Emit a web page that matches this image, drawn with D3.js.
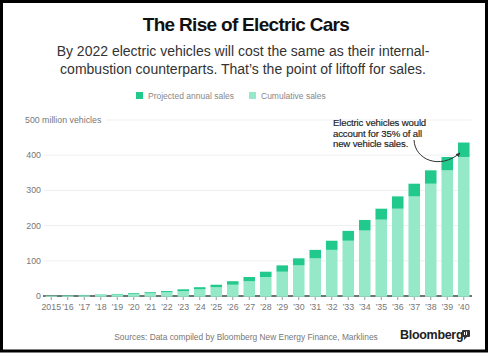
<!DOCTYPE html>
<html><head><meta charset="utf-8">
<script src="https://cdn.jsdelivr.net/npm/d3@7/dist/d3.min.js"></script>
<style>
html,body{margin:0;padding:0;background:#fff;}
svg{display:block;font-family:"Liberation Sans",Arial,Helvetica,sans-serif;}
</style></head>
<body><svg id="c" width="493" height="357"></svg>
<script>
const years = ["2015","’16","’17","’18","’19","’20","’21","’22","’23","’24","’25","’26","’27","’28","’29","’30","’31","’32","’33","’34","’35","’36","’37","’38","’39","’40"];
const cumulativeSales = [0.8,1.3,2.1,3.0,4.2,5.8,8.0,10.7,14,19,25,32,42,54,69,87,107,131,157,186,217,248,283,319,357,395];
const annualSales = [0.5,0.8,0.9,1.2,1.6,2.2,2.7,3.3,5,6,7,10,12,15,18,20,24,26,28,30,31,35,36,38,38,41];
const yTicks = [0,100,200,300,400,500];

const C_ANNUAL = "#21c98c", C_CUM = "#96e9c8";
const svg = d3.select("#c");

// frame
svg.append("rect").attr("x",1.5).attr("y",1.5).attr("width",485).attr("height",349.5)
  .attr("fill","#fff").attr("stroke","#000").attr("stroke-width",3);

// title
svg.append("text").attr("x",246).attr("y",31).attr("text-anchor","middle")
  .attr("font-size",19).attr("font-weight","bold").attr("letter-spacing","-0.7")
  .attr("fill","#111").text("The Rise of Electric Cars");
const sub = ["By 2022 electric vehicles will cost the same as their internal-",
             "combustion counterparts. That’s the point of liftoff for sales."];
sub.forEach((s,i)=>svg.append("text").attr("x",243).attr("y",56+i*17.5).attr("text-anchor","middle")
  .attr("font-size",14).attr("fill","#333").text(s));

// legend
const leg = [{c:C_ANNUAL,t:"Projected annual sales",x:136},{c:C_CUM,t:"Cumulative sales",x:249}];
leg.forEach(l=>{
  svg.append("rect").attr("x",l.x).attr("y",92).attr("width",7).attr("height",7).attr("fill",l.c);
  svg.append("text").attr("x",l.x+12).attr("y",98.5).attr("font-size",8.5).attr("fill","#888").text(l.t);
});

const x = d3.scaleBand().domain(years).range([43,472]).paddingInner(0.3).paddingOuter(0.15);
const y = d3.scaleLinear().domain([0,500]).range([296,120]);

// grid
yTicks.forEach(t=>{
  if(t===0) return;
  svg.append("line").attr("x1", t===500?106:44).attr("x2",471).attr("y1",y(t)).attr("y2",y(t))
    .attr("stroke","#efefef").attr("stroke-width",1);
});
yTicks.forEach(t=>{
  if(t===500){
    svg.append("text").attr("x",25).attr("y",y(t)+3).attr("font-size",8.8).attr("fill","#777").text("500 million vehicles");
  } else {
    svg.append("text").attr("x",41).attr("y",y(t)+3).attr("text-anchor","end").attr("font-size",8.8).attr("fill","#777").text(t);
  }
});

// axis line and ticks
svg.append("line").attr("x1",43).attr("x2",472).attr("y1",y(0)).attr("y2",y(0)).attr("stroke","#444").attr("stroke-width",1.3);
const xAxis = d3.axisBottom(x).tickSize(4).tickPadding(4);
const ax = svg.append("g").attr("transform",`translate(0,${y(0)})`).call(xAxis);
ax.select(".domain").remove();
ax.selectAll(".tick line").attr("stroke","#999");
ax.selectAll(".tick text").attr("font-size",8.8).attr("fill","#777").attr("font-family","Liberation Sans, Arial, sans-serif");

// bars
const data = years.map((yr,i)=>({yr, cum:cumulativeSales[i], ann:annualSales[i]}));
svg.append("g").selectAll("rect").data(data).join("rect")
  .attr("x",d=>x(d.yr)).attr("width",x.bandwidth())
  .attr("y",d=>y(d.cum)).attr("height",d=>y(0)-y(d.cum)+0.8).attr("fill",C_CUM);
svg.append("g").selectAll("rect").data(data).join("rect")
  .attr("x",d=>x(d.yr)).attr("width",x.bandwidth())
  .attr("y",d=>y(d.cum+d.ann)).attr("height",d=>y(d.cum)-y(d.cum+d.ann)).attr("fill",C_ANNUAL);

// annotation
const ann = ["Electric vehicles would","account for 35% of all","new vehicle sales."];
ann.forEach((s,i)=>svg.append("text").attr("x",333).attr("y",126+i*10.7).attr("font-size",9.6)
  .attr("letter-spacing","-0.15").attr("fill","#1a1a1a").attr("stroke","#1a1a1a").attr("stroke-width",0.15).text(s));
svg.append("defs").append("marker").attr("id","ah").attr("viewBox","0 0 10 10").attr("refX",8).attr("refY",5)
  .attr("markerWidth",5).attr("markerHeight",5).attr("orient","auto")
  .append("path").attr("d","M0,1 L9,5 L0,9 Z").attr("fill","#333");
svg.append("path").attr("d","M414,140 C415,160 440,170 460,153").attr("fill","none")
  .attr("stroke","#333").attr("stroke-width",1).attr("marker-end","url(#ah)");

// footer
svg.append("text").attr("x",246).attr("y",340).attr("text-anchor","middle").attr("font-size",8.4)
  .attr("fill","#777").text("Sources: Data compiled by Bloomberg New Energy Finance, Marklines");
svg.append("text").attr("x",400).attr("y",339).attr("font-size",12.5).attr("font-weight","bold")
  .attr("letter-spacing","-0.3").attr("fill","#222").text("Bloomberg");
svg.append("rect").attr("x",462).attr("y",330).attr("width",8).attr("height",7).attr("rx",1).attr("fill","#333");
svg.append("path").attr("d","M464,337 L467,337 L464,340 Z").attr("fill","#333");
svg.append("rect").attr("x",464).attr("y",332).attr("width",1).attr("height",3).attr("fill","#fff");
svg.append("rect").attr("x",466).attr("y",331.5).attr("width",1).attr("height",3.5).attr("fill","#fff");
</script></body></html>
